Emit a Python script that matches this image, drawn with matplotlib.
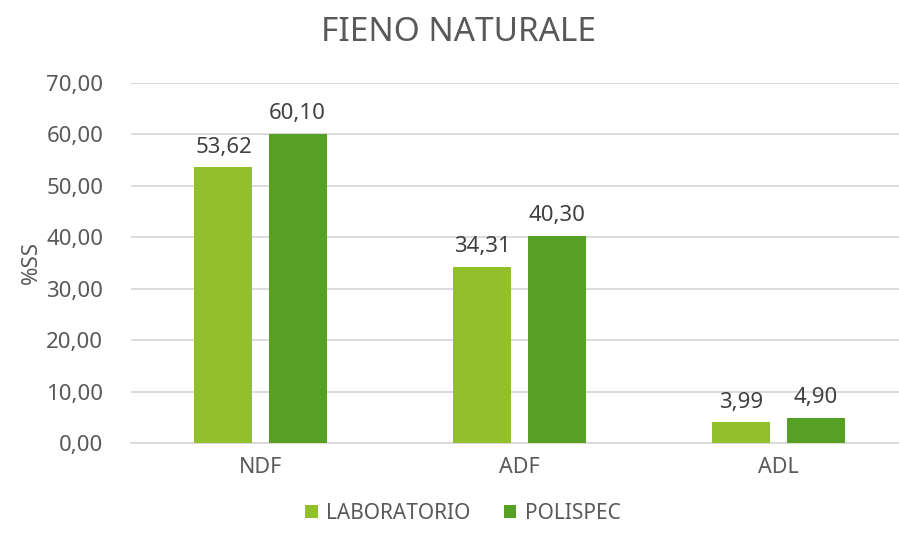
import numpy as np
import matplotlib.pyplot as plt

plt.rcParams['font.family'] = ['Noto Sans', 'DejaVu Sans']

categories = ['NDF', 'ADF', 'ADL']
laboratorio = [53.62, 34.31, 3.99]
polispec = [60.10, 40.30, 4.90]
yticks = [0, 10, 20, 30, 40, 50, 60, 70]

c_lab = '#92C02A'
c_pol = '#55A025'
txt = '#595959'

fig = plt.figure(figsize=(8.99, 5.36), dpi=100)
# the plot area runs past the right edge, as in the original
ax = fig.add_axes([131 / 899, 1 - 443 / 536, 777 / 899, 360 / 536])

x = np.arange(len(categories))
w = 0.224
off = 0.143

b1 = ax.bar(x - off, laboratorio, w, color=c_lab, label='LABORATORIO', zorder=3)
b2 = ax.bar(x + off, polispec, w, color=c_pol, label='POLISPEC', zorder=3)

for bars, vals in [(b1, laboratorio), (b2, polispec)]:
    for b, v in zip(bars, vals):
        ax.annotate(f'{v:.2f}'.replace('.', ','), (b.get_x() + b.get_width() / 2, v),
                    xytext=(0, 7), textcoords='offset points', ha='center', va='bottom',
                    fontsize=16, color='#404040')

ax.set_xlim(-0.5, 2.5)
ax.set_ylim(0, 70)
ax.set_yticks(yticks)
ax.set_yticklabels([f'{t:.2f}'.replace('.', ',') for t in yticks], fontsize=16, color=txt)
ax.set_xticks(x)
ax.set_xticklabels(categories, fontsize=15.5, color=txt)
ax.tick_params(axis='y', length=0, pad=20)
ax.tick_params(axis='x', length=0, pad=10)
ax.grid(axis='y', color='#D9D9D9', linewidth=1.3, zorder=0)
for s in ['top', 'right', 'left']:
    ax.spines[s].set_visible(False)
ax.spines['bottom'].set_color('#D9D9D9')
ax.spines['bottom'].set_linewidth(1.3)

ax.set_ylabel('%SS', fontsize=16, color=txt, labelpad=3)
fig.text(0.51, 0.94, 'FIENO NATURALE', fontsize=24, color=txt, ha='center', va='center')

fig.legend(loc='lower center', bbox_to_anchor=(0.515, -0.012), ncol=2, frameon=False,
           fontsize=15, labelcolor=txt, handlelength=0.6, handleheight=0.6,
           handletextpad=0.4, columnspacing=1.6)

fig.savefig('out.png', dpi=100, facecolor='white')
